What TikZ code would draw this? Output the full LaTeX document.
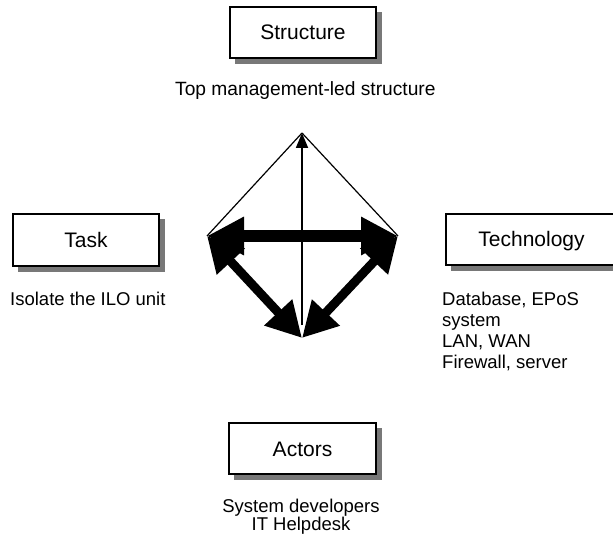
\documentclass[tikz,border=0pt]{standalone}
\usepackage{fontspec}
\setmainfont{Liberation Sans}
\usetikzlibrary{arrows.meta}
\definecolor{shadowgray}{RGB}{120,120,120}
\begin{document}
\begin{tikzpicture}[x=1pt,y=-1pt,
  box/.style={draw=black, line width=1.4pt, fill=white, inner sep=0pt,
    text height=15pt, text depth=0pt, font=\fontsize{21}{24}\selectfont},
  shadowfill/.style={fill=shadowgray},
  note/.style={font=\fontsize{18.5}{21}\selectfont, inner sep=0pt},
  thinline/.style={line width=1.2pt},
  bigtip/.tip={Triangle[length=37pt,width=36pt]},
  midtip/.tip={Triangle[length=35pt,width=36pt]},
  smalltip/.tip={Triangle[length=15pt,width=12pt]},
  heavy/.style={line width=12pt, bigtip-bigtip},
  medium/.style={line width=9pt, midtip-midtip}
]
\useasboundingbox (0,0) rectangle (613,540);
\clip (0,0) rectangle (613,540);

% shadows
\fill[shadowfill] (235,12) rectangle (382,64);
\fill[shadowfill] (18,219) rectangle (165,272);
\fill[shadowfill] (451,219) rectangle (622,271);
\fill[shadowfill] (234,428) rectangle (382,480);

% boxes
\node[box, minimum width=146pt, minimum height=51pt] (structure) at (303,32.5) {Structure};
\node[box, minimum width=146pt, minimum height=52pt] (task) at (86,240) {Task};
\node[box, minimum width=171pt, minimum height=51pt] (technology) at (531.5,239.5) {Technology};
\node[box, minimum width=147pt, minimum height=51pt] (actors) at (302.5,448.5) {Actors};

% notes
\node[note, anchor=base west, font=\fontsize{19.2}{21}\selectfont] (topnote) at (175,96) {Top management-led structure};
\node[note, anchor=base west] (tasknote) at (10,305) {Isolate the ILO unit};
\node[note, anchor=base west] (tech1) at (442,305) {Database, EPoS};
\node[note, anchor=base west] (tech2) at (442,326) {system};
\node[note, anchor=base west] (tech3) at (442,347) {LAN, WAN};
\node[note, anchor=base west] (tech4) at (442,368) {Firewall, server};
\node[note, anchor=base] (act1) at (301,512) {System developers};
\node[note, anchor=base] (act2) at (301,530) {IT Helpdesk};

% diamond
\coordinate (T) at (302,133);
\coordinate (L) at (207,236);
\coordinate (R) at (398,236);
\coordinate (B) at (302,338);
\coordinate (B2) at (302,325);

\draw[thinline] (T) -- (L);
\draw[thinline] (T) -- (R);
\draw[line width=1.8pt, -smalltip] (B2) -- (T);
\draw[heavy] (L) -- (R);
\draw[medium] (L) -- (B);
\draw[medium] (R) -- (B);
\end{tikzpicture}
\end{document}
